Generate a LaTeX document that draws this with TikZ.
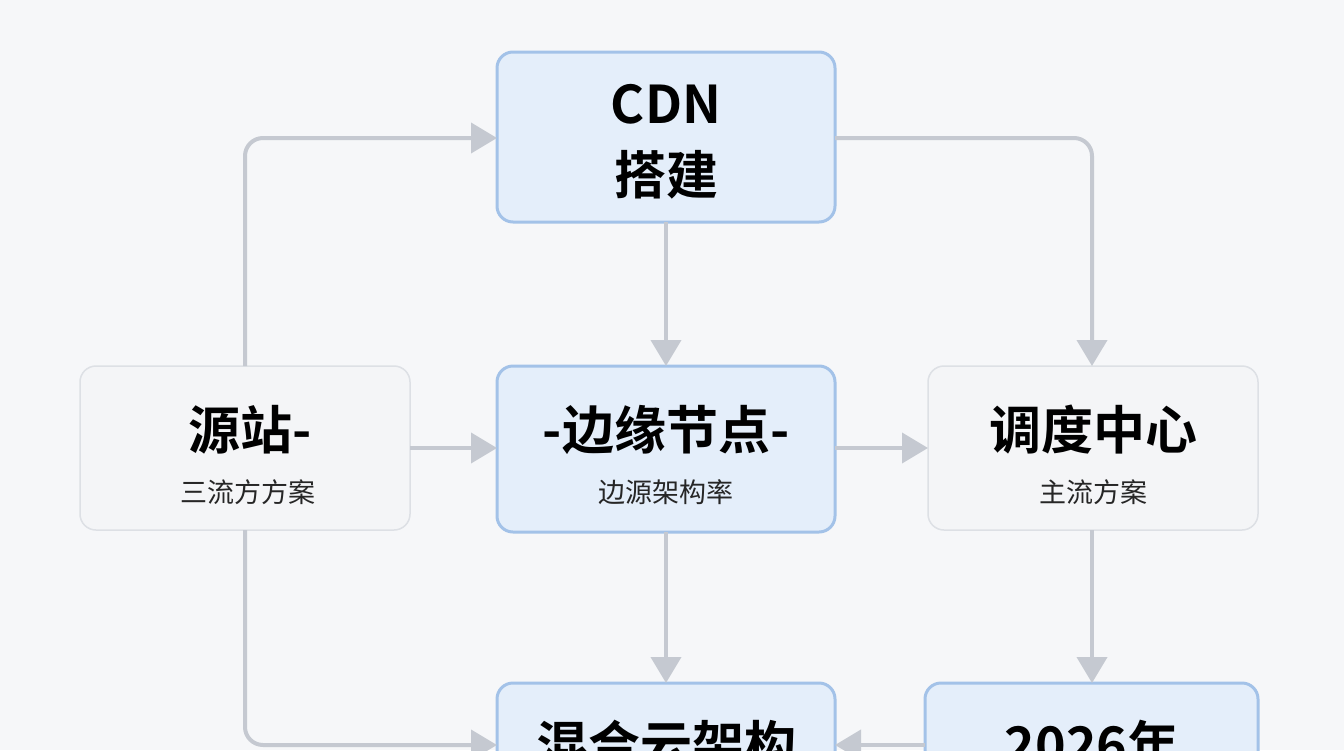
\documentclass[tikz,border=0pt]{standalone}
\usepackage{fontspec}
\setmainfont{Noto Sans CJK SC}
\newfontfamily\cjkb{Noto Sans CJK SC Bold}
\usetikzlibrary{arrows.meta}
\definecolor{bg}{HTML}{F6F7F9}
\definecolor{bfill}{HTML}{E4EEFA}
\definecolor{bdraw}{HTML}{A3C2E8}
\definecolor{gfill}{HTML}{F4F5F7}
\definecolor{gdraw}{HTML}{DDE0E5}
\definecolor{ln}{HTML}{C5C9D1}
\begin{document}
\begin{tikzpicture}[x=1pt,y=-1pt,
  bbox/.style={draw=bdraw,fill=bfill,line width=3pt,rounded corners=16pt},
  gbox/.style={draw=gdraw,fill=gfill,line width=1.5pt,rounded corners=16pt},
  big/.style={font=\cjkb\fontsize{52}{60}\selectfont,text=black},
  small/.style={font=\fontsize{27}{30}\selectfont,text=black!85},
  conn/.style={draw=ln,line width=4pt,rounded corners=18pt,-{Triangle[length=26pt,width=30pt]}}]
\useasboundingbox (0,0) rectangle (1344,750);
\clip (0,0) rectangle (1344,750);
\fill[bg] (0,0) rectangle (1344,750);
% boxes
\path[bbox] (497,52) rectangle (835,222);
\path[gbox] (80,366) rectangle (410,530);
\path[bbox] (497,366) rectangle (835,532);
\path[gbox] (928,366) rectangle (1258,530);
\path[bbox] (497,683) rectangle (835,820);
\path[bbox] (925,683) rectangle (1258,820);
\coordinate (cdnL) at (497,138); \coordinate (cdnR) at (835,138);
\coordinate (cdnB) at (666,222);
\coordinate (yzT) at (245,366); \coordinate (yzR) at (410,448); \coordinate (yzB) at (245,530);
\coordinate (byT) at (666,366); \coordinate (byL) at (497,448); \coordinate (byR) at (835,448); \coordinate (byB) at (666,532);
\coordinate (ddT) at (1092,366); \coordinate (ddL) at (928,448); \coordinate (ddB) at (1092,530);
\coordinate (hhT) at (666,683); \coordinate (hhL) at (497,745); \coordinate (hhR) at (835,745);
\coordinate (nT) at (1092,683); \coordinate (nL) at (925,745);
% text
\node[big] (t1) at (666,104) {CDN};
\node[big] (t2) at (666,175) {搭建};
\node[big] (t3) at (250,430) {源站-};
\node[small] (s3) at (248,492) {三流方方案};
\node[big] (t4) at (666,430) {-边缘节点-};
\node[small] (s4) at (666,492) {边源架构率};
\node[big] (t5) at (1093,430) {调度中心};
\node[small] (s5) at (1093,492) {主流方案};
\node[big] (t6) at (666,745) {混合云架构};
\node[big] (t7) at (1092,745) {2026年};
% connectors
\draw[conn] (yzT) -- (245,138) -- (cdnL);
\draw[conn] (cdnR) -- (1092,138) -- (ddT);
\draw[conn] (cdnB) -- (byT);
\draw[conn] (yzR) -- (byL);
\draw[conn] (byR) -- (ddL);
\draw[conn] (byB) -- (hhT);
\draw[conn] (ddB) -- (nT);
\draw[conn] (yzB) -- (245,745) -- (hhL);
\draw[conn] (nL) -- (hhR);
\end{tikzpicture}
\end{document}
